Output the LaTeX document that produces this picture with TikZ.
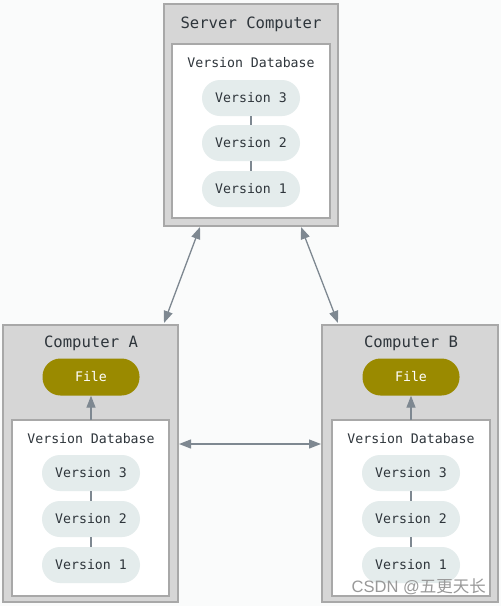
\documentclass[tikz,border=0pt]{standalone}
\usepackage{fontspec}
\setmonofont{DejaVu Sans Mono}
\newfontfamily\cjkfont{Noto Sans CJK SC}
\usetikzlibrary{arrows.meta}
\definecolor{bgc}{HTML}{FAFBFB}
\definecolor{boxc}{HTML}{D6D6D6}
\definecolor{boxline}{HTML}{A8A8A8}
\definecolor{pillc}{HTML}{E4ECEC}
\definecolor{filec}{HTML}{9A8A00}
\definecolor{txt}{HTML}{2E353B}
\definecolor{arr}{HTML}{7E8891}
\tikzset{
  outer/.style={draw=boxline, fill=boxc, line width=1.2pt},
  inner/.style={draw=boxline, fill=white, line width=1.2pt},
  pill/.style={fill=pillc, rounded corners=18pt, minimum width=98pt, minimum height=36pt, text=txt, font=\ttfamily\fontsize{13.2}{13.2}\selectfont, inner sep=0pt},
  filepill/.style={fill=filec, rounded corners=18pt, minimum width=97pt, minimum height=37pt, text=white, font=\ttfamily\fontsize{13.2}{13.2}\selectfont, inner sep=0pt},
  title/.style={text=txt, font=\ttfamily\fontsize{15.6}{15.6}\selectfont, inner sep=0pt},
  dbtitle/.style={text=txt, font=\ttfamily\fontsize{13.2}{13.2}\selectfont, inner sep=0pt},
  link/.style={draw=arr, line width=1.2pt},
  arrow/.style={draw=arr, line width=1.3pt, -{Triangle[length=12pt,width=9pt]}},
  darrow/.style={draw=arr, line width=1.3pt, {Triangle[length=12pt,width=9pt]}-{Triangle[length=12pt,width=9pt]}},
}
\begin{document}
\begin{tikzpicture}[x=1pt,y=-1pt]
\fill[bgc] (0,0) rectangle (501,606);
\useasboundingbox (0,0) rectangle (501,606);
% Server
\draw[outer] (164,4) rectangle (338,226);
\coordinate (srvA) at (200,227);
\coordinate (srvB) at (301,227);
\draw[inner] (172,44) rectangle (330,218);
\node[title] (st) at (251,24) {Server Computer};
\node[dbtitle] (sdb) at (251,63) {Version Database};
\node[pill] (s3) at (251,98) {Version 3};
\node[pill] (s2) at (251,143) {Version 2};
\node[pill] (s1) at (251,189) {Version 1};
\draw[link] (s3) -- (s2);
\draw[link] (s2) -- (s1);
% Computer A
\draw[outer] (3,325) rectangle (178,602);
\coordinate (aTop) at (164,323);
\coordinate (aR) at (179,444);
\draw[inner] (12,420) rectangle (169,596);
\coordinate (aIn) at (91,420);
\node[title] (at) at (91,343) {Computer A};
\node[filepill] (af) at (91,377) {File};
\node[dbtitle] (adb) at (91,439) {Version Database};
\node[pill] (a3) at (91,473) {Version 3};
\node[pill] (a2) at (91,519) {Version 2};
\node[pill] (a1) at (91,565) {Version 1};
\draw[link] (a3) -- (a2);
\draw[link] (a2) -- (a1);
\draw[arrow] (aIn) -- (af);
% Computer B
\draw[outer] (322,325) rectangle (498,602);
\coordinate (bTop) at (338,323);
\coordinate (bL) at (321,444);
\draw[inner] (332,420) rectangle (490,596);
\coordinate (bIn) at (411,420);
\node[title] (bt) at (411,343) {Computer B};
\node[filepill] (bf) at (411,377) {File};
\node[dbtitle] (bdb) at (411,439) {Version Database};
\node[pill] (b3) at (411,473) {Version 3};
\node[pill] (b2) at (411,519) {Version 2};
\node[pill] (b1) at (411,565) {Version 1};
\draw[link] (b3) -- (b2);
\draw[link] (b2) -- (b1);
\draw[arrow] (bIn) -- (bf);
% connections
\draw[darrow] (srvA) -- (aTop);
\draw[darrow] (srvB) -- (bTop);
\draw[darrow] (aR) -- (bL);
% watermark
\node[text=black!40, font=\fontsize{16.5}{16.5}\selectfont, inner sep=0pt, anchor=east] (wm) at (486,587) {{\fontspec{Liberation Sans}CSDN @}{\cjkfont 五更天长}};
\end{tikzpicture}
\end{document}
